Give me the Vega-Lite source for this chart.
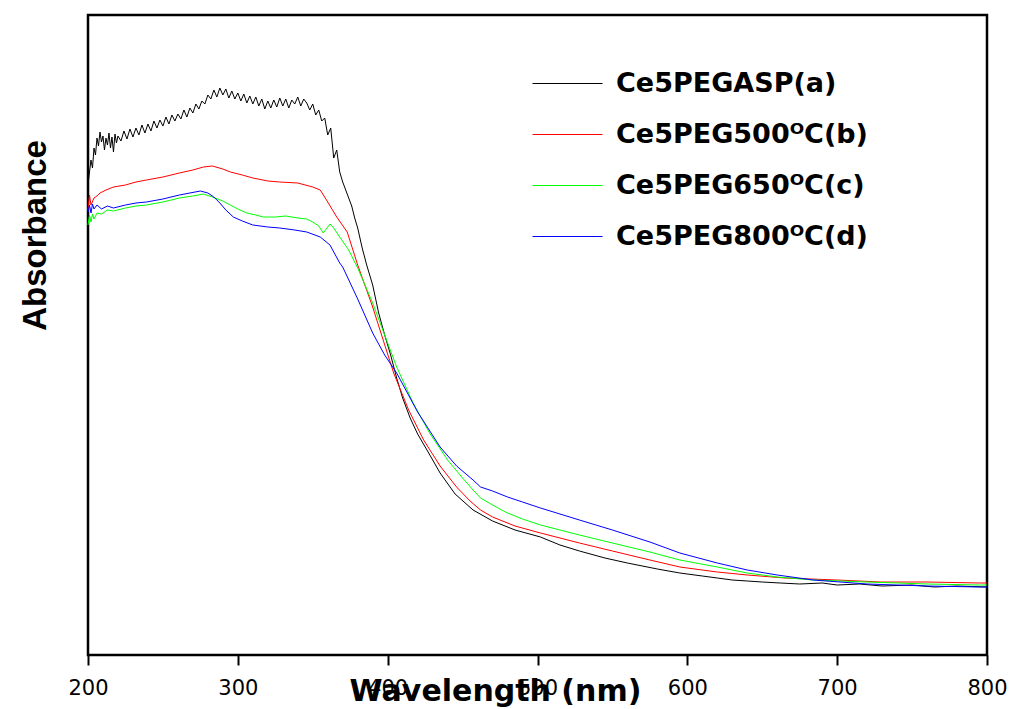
{
"$schema": "https://vega.github.io/schema/vega-lite/v6.json",
"width": 899, "height": 640,
"autosize": {"type": "none"},
"padding": {"left": 88, "top": 15, "right": 24, "bottom": 54},
"background": "white",
"data": {"values": [
{"s":"a","x":200,"y":4.70},{"s":"a","x":201,"y":4.83},{"s":"a","x":202,"y":4.95},{"s":"a","x":203,"y":4.87},{"s":"a","x":204,"y":5.07},{"s":"a","x":205,"y":5.00},{"s":"a","x":206,"y":5.17},{"s":"a","x":207,"y":5.09},{"s":"a","x":208,"y":5.23},{"s":"a","x":209,"y":5.13},{"s":"a","x":210,"y":5.19},{"s":"a","x":211,"y":5.05},{"s":"a","x":212,"y":5.17},{"s":"a","x":213,"y":5.10},{"s":"a","x":214,"y":5.22},{"s":"a","x":215,"y":5.07},{"s":"a","x":216,"y":5.18},{"s":"a","x":217,"y":5.03},{"s":"a","x":218,"y":5.21},{"s":"a","x":219,"y":5.12},{"s":"a","x":220,"y":5.19},{"s":"a","x":222,"y":5.14},{"s":"a","x":224,"y":5.24},{"s":"a","x":226,"y":5.16},{"s":"a","x":228,"y":5.26},{"s":"a","x":230,"y":5.18},{"s":"a","x":232,"y":5.27},{"s":"a","x":234,"y":5.20},{"s":"a","x":236,"y":5.30},{"s":"a","x":238,"y":5.22},{"s":"a","x":240,"y":5.31},{"s":"a","x":242,"y":5.24},{"s":"a","x":244,"y":5.34},{"s":"a","x":246,"y":5.27},{"s":"a","x":248,"y":5.35},{"s":"a","x":250,"y":5.29},{"s":"a","x":252,"y":5.38},{"s":"a","x":254,"y":5.31},{"s":"a","x":256,"y":5.40},{"s":"a","x":258,"y":5.34},{"s":"a","x":260,"y":5.41},{"s":"a","x":262,"y":5.36},{"s":"a","x":264,"y":5.45},{"s":"a","x":266,"y":5.38},{"s":"a","x":268,"y":5.47},{"s":"a","x":270,"y":5.42},{"s":"a","x":272,"y":5.51},{"s":"a","x":274,"y":5.46},{"s":"a","x":276,"y":5.54},{"s":"a","x":278,"y":5.51},{"s":"a","x":280,"y":5.60},{"s":"a","x":282,"y":5.56},{"s":"a","x":284,"y":5.65},{"s":"a","x":286,"y":5.58},{"s":"a","x":288,"y":5.67},{"s":"a","x":290,"y":5.60},{"s":"a","x":292,"y":5.66},{"s":"a","x":294,"y":5.57},{"s":"a","x":296,"y":5.64},{"s":"a","x":298,"y":5.56},{"s":"a","x":300,"y":5.62},{"s":"a","x":302,"y":5.54},{"s":"a","x":304,"y":5.61},{"s":"a","x":306,"y":5.52},{"s":"a","x":308,"y":5.59},{"s":"a","x":310,"y":5.51},{"s":"a","x":312,"y":5.58},{"s":"a","x":314,"y":5.49},{"s":"a","x":316,"y":5.56},{"s":"a","x":318,"y":5.46},{"s":"a","x":320,"y":5.54},{"s":"a","x":322,"y":5.47},{"s":"a","x":324,"y":5.55},{"s":"a","x":326,"y":5.48},{"s":"a","x":328,"y":5.57},{"s":"a","x":330,"y":5.49},{"s":"a","x":332,"y":5.56},{"s":"a","x":334,"y":5.47},{"s":"a","x":336,"y":5.55},{"s":"a","x":338,"y":5.51},{"s":"a","x":340,"y":5.58},{"s":"a","x":342,"y":5.49},{"s":"a","x":344,"y":5.56},{"s":"a","x":346,"y":5.52},{"s":"a","x":348,"y":5.45},{"s":"a","x":350,"y":5.51},{"s":"a","x":352,"y":5.40},{"s":"a","x":354,"y":5.45},{"s":"a","x":356,"y":5.34},{"s":"a","x":358,"y":5.37},{"s":"a","x":360,"y":5.20},{"s":"a","x":362,"y":5.27},{"s":"a","x":364,"y":4.97},{"s":"a","x":366,"y":5.05},{"s":"a","x":368,"y":4.83},{"s":"a","x":370,"y":4.73},{"s":"a","x":372,"y":4.65},{"s":"a","x":374,"y":4.57},{"s":"a","x":376,"y":4.49},{"s":"a","x":378,"y":4.37},{"s":"a","x":380,"y":4.27},{"s":"a","x":383,"y":4.07},{"s":"a","x":386,"y":3.90},{"s":"a","x":390,"y":3.70},{"s":"a","x":394,"y":3.42},{"s":"a","x":398,"y":3.20},{"s":"a","x":402,"y":3.00},{"s":"a","x":406,"y":2.77},{"s":"a","x":410,"y":2.57},{"s":"a","x":415,"y":2.37},{"s":"a","x":420,"y":2.21},{"s":"a","x":427,"y":2.03},{"s":"a","x":435,"y":1.82},{"s":"a","x":445,"y":1.61},{"s":"a","x":457,"y":1.45},{"s":"a","x":470,"y":1.34},{"s":"a","x":485,"y":1.25},{"s":"a","x":502,"y":1.18},{"s":"a","x":515,"y":1.10},{"s":"a","x":528,"y":1.04},{"s":"a","x":545,"y":0.97},{"s":"a","x":560,"y":0.92},{"s":"a","x":580,"y":0.86},{"s":"a","x":595,"y":0.82},{"s":"a","x":610,"y":0.79},{"s":"a","x":620,"y":0.77},{"s":"a","x":630,"y":0.75},{"s":"a","x":640,"y":0.74},{"s":"a","x":650,"y":0.73},{"s":"a","x":662,"y":0.72},{"s":"a","x":675,"y":0.71},{"s":"a","x":690,"y":0.72},{"s":"a","x":700,"y":0.70},{"s":"a","x":715,"y":0.71},{"s":"a","x":730,"y":0.69},{"s":"a","x":750,"y":0.70},{"s":"a","x":765,"y":0.68},{"s":"a","x":780,"y":0.69},{"s":"a","x":800,"y":0.68},
{"s":"b","x":200,"y":4.45},{"s":"b","x":201,"y":4.60},{"s":"b","x":202,"y":4.50},{"s":"b","x":204,"y":4.57},{"s":"b","x":206,"y":4.59},{"s":"b","x":208,"y":4.62},{"s":"b","x":212,"y":4.65},{"s":"b","x":217,"y":4.68},{"s":"b","x":225,"y":4.70},{"s":"b","x":232,"y":4.73},{"s":"b","x":239,"y":4.75},{"s":"b","x":250,"y":4.78},{"s":"b","x":261,"y":4.82},{"s":"b","x":270,"y":4.85},{"s":"b","x":277,"y":4.88},{"s":"b","x":283,"y":4.89},{"s":"b","x":290,"y":4.86},{"s":"b","x":295,"y":4.83},{"s":"b","x":303,"y":4.80},{"s":"b","x":310,"y":4.77},{"s":"b","x":320,"y":4.74},{"s":"b","x":328,"y":4.73},{"s":"b","x":340,"y":4.72},{"s":"b","x":350,"y":4.68},{"s":"b","x":355,"y":4.65},{"s":"b","x":360,"y":4.53},{"s":"b","x":366,"y":4.38},{"s":"b","x":373,"y":4.23},{"s":"b","x":380,"y":3.90},{"s":"b","x":390,"y":3.48},{"s":"b","x":397,"y":3.15},{"s":"b","x":404,"y":2.82},{"s":"b","x":414,"y":2.45},{"s":"b","x":424,"y":2.15},{"s":"b","x":435,"y":1.89},{"s":"b","x":446,"y":1.68},{"s":"b","x":455,"y":1.54},{"s":"b","x":462,"y":1.45},{"s":"b","x":470,"y":1.38},{"s":"b","x":485,"y":1.29},{"s":"b","x":502,"y":1.22},{"s":"b","x":515,"y":1.17},{"s":"b","x":528,"y":1.12},{"s":"b","x":550,"y":1.04},{"s":"b","x":575,"y":0.95},{"s":"b","x":595,"y":0.88},{"s":"b","x":620,"y":0.83},{"s":"b","x":640,"y":0.80},{"s":"b","x":665,"y":0.77},{"s":"b","x":700,"y":0.75},{"s":"b","x":729,"y":0.73},{"s":"b","x":760,"y":0.73},{"s":"b","x":795,"y":0.72},{"s":"b","x":800,"y":0.72},
{"s":"c","x":200,"y":4.30},{"s":"c","x":201,"y":4.40},{"s":"c","x":202,"y":4.33},{"s":"c","x":203,"y":4.41},{"s":"c","x":204,"y":4.36},{"s":"c","x":206,"y":4.42},{"s":"c","x":209,"y":4.41},{"s":"c","x":213,"y":4.45},{"s":"c","x":217,"y":4.44},{"s":"c","x":225,"y":4.47},{"s":"c","x":232,"y":4.49},{"s":"c","x":239,"y":4.50},{"s":"c","x":250,"y":4.53},{"s":"c","x":261,"y":4.57},{"s":"c","x":270,"y":4.59},{"s":"c","x":277,"y":4.61},{"s":"c","x":283,"y":4.58},{"s":"c","x":290,"y":4.54},{"s":"c","x":295,"y":4.50},{"s":"c","x":300,"y":4.46},{"s":"c","x":306,"y":4.42},{"s":"c","x":312,"y":4.40},{"s":"c","x":317,"y":4.38},{"s":"c","x":325,"y":4.38},{"s":"c","x":332,"y":4.39},{"s":"c","x":340,"y":4.37},{"s":"c","x":346,"y":4.36},{"s":"c","x":350,"y":4.33},{"s":"c","x":354,"y":4.29},{"s":"c","x":357,"y":4.22},{"s":"c","x":359,"y":4.26},{"s":"c","x":361.5,"y":4.31},{"s":"c","x":364,"y":4.27},{"s":"c","x":368,"y":4.18},{"s":"c","x":374,"y":4.05},{"s":"c","x":380,"y":3.87},{"s":"c","x":390,"y":3.52},{"s":"c","x":398,"y":3.20},{"s":"c","x":406,"y":2.88},{"s":"c","x":417,"y":2.52},{"s":"c","x":428,"y":2.22},{"s":"c","x":440,"y":1.95},{"s":"c","x":450,"y":1.77},{"s":"c","x":457,"y":1.65},{"s":"c","x":462,"y":1.57},{"s":"c","x":470,"y":1.50},{"s":"c","x":480,"y":1.42},{"s":"c","x":490,"y":1.36},{"s":"c","x":502,"y":1.30},{"s":"c","x":515,"y":1.25},{"s":"c","x":528,"y":1.20},{"s":"c","x":550,"y":1.12},{"s":"c","x":575,"y":1.03},{"s":"c","x":595,"y":0.95},{"s":"c","x":620,"y":0.88},{"s":"c","x":640,"y":0.82},{"s":"c","x":660,"y":0.78},{"s":"c","x":684,"y":0.75},{"s":"c","x":720,"y":0.73},{"s":"c","x":760,"y":0.71},{"s":"c","x":795,"y":0.70},{"s":"c","x":800,"y":0.70},
{"s":"d","x":200,"y":4.43},{"s":"d","x":201,"y":4.50},{"s":"d","x":202,"y":4.42},{"s":"d","x":203,"y":4.51},{"s":"d","x":204,"y":4.46},{"s":"d","x":206,"y":4.50},{"s":"d","x":209,"y":4.46},{"s":"d","x":213,"y":4.49},{"s":"d","x":217,"y":4.47},{"s":"d","x":225,"y":4.50},{"s":"d","x":232,"y":4.52},{"s":"d","x":239,"y":4.53},{"s":"d","x":250,"y":4.56},{"s":"d","x":261,"y":4.60},{"s":"d","x":268,"y":4.62},{"s":"d","x":275,"y":4.64},{"s":"d","x":280,"y":4.62},{"s":"d","x":284,"y":4.58},{"s":"d","x":288,"y":4.52},{"s":"d","x":292,"y":4.45},{"s":"d","x":297,"y":4.38},{"s":"d","x":303,"y":4.34},{"s":"d","x":310,"y":4.30},{"s":"d","x":320,"y":4.28},{"s":"d","x":328,"y":4.27},{"s":"d","x":338,"y":4.25},{"s":"d","x":346,"y":4.23},{"s":"d","x":355,"y":4.18},{"s":"d","x":361.5,"y":4.10},{"s":"d","x":368,"y":3.92},{"s":"d","x":370,"y":3.88},{"s":"d","x":380,"y":3.56},{"s":"d","x":390,"y":3.22},{"s":"d","x":398,"y":3.00},{"s":"d","x":406,"y":2.82},{"s":"d","x":420,"y":2.43},{"s":"d","x":435,"y":2.08},{"s":"d","x":446,"y":1.89},{"s":"d","x":457,"y":1.75},{"s":"d","x":462,"y":1.68},{"s":"d","x":470,"y":1.64},{"s":"d","x":480,"y":1.58},{"s":"d","x":490,"y":1.53},{"s":"d","x":502,"y":1.47},{"s":"d","x":515,"y":1.41},{"s":"d","x":528,"y":1.35},{"s":"d","x":550,"y":1.25},{"s":"d","x":575,"y":1.13},{"s":"d","x":595,"y":1.02},{"s":"d","x":620,"y":0.92},{"s":"d","x":640,"y":0.85},{"s":"d","x":660,"y":0.80},{"s":"d","x":684,"y":0.75},{"s":"d","x":720,"y":0.71},{"s":"d","x":760,"y":0.69},{"s":"d","x":795,"y":0.68},{"s":"d","x":800,"y":0.68}
]},
"mark": {"type": "line", "strokeWidth": 1, "interpolate": "linear"},
"encoding": {
  "x": {"field": "x", "type": "quantitative",
    "scale": {"domain": [200, 800], "nice": false, "zero": false},
    "axis": {"values": [200, 300, 400, 500, 600, 700, 800], "domain": false, "grid": false,
      "ticks": true, "tickSize": 10, "tickWidth": 2, "tickColor": "#000",
      "labelFont": "DejaVu Sans", "labelFontSize": 21, "labelColor": "#000", "labelPadding": 12,
      "labelFlush": false, "labelOverlap": false,
      "title": "Wavelength (nm)", "titleFont": "DejaVu Sans", "titleFontWeight": "bold", "titleFontSize": 30,
      "titleColor": "#000", "titleX": 407, "titleY": 45, "titleBaseline": "alphabetic", "titleAlign": "center"}},
  "y": {"field": "y", "type": "quantitative",
    "scale": {"domain": [0, 6.4], "nice": false},
    "axis": {"domain": false, "ticks": false, "labels": false, "grid": false,
      "title": "Absorbance", "titleFont": "Liberation Sans", "titleFontWeight": "bold", "titleFontSize": 33,
      "titleColor": "#000", "titleAngle": 270, "titleX": -43, "titleY": 220, "titleBaseline": "alphabetic", "titleAlign": "center"}},
  "color": {"field": "s", "type": "nominal",
    "scale": {"domain": ["a", "b", "c", "d"], "range": ["#000000", "#ff0000", "#00ff00", "#0000ff"]},
    "legend": {"title": null, "orient": "none", "legendX": 444, "legendY": 33, "symbolType": "stroke",
      "symbolSize": 4900, "symbolStrokeWidth": 1, "labelFont": "DejaVu Sans", "labelFontWeight": "bold",
      "labelFontSize": 27, "labelColor": "#000", "labelOffset": 13, "rowPadding": 2, "padding": 0, "labelLimit": 400,
      "labelExpr": "datum.value == 'a' ? 'Ce5PEGASP(a)' : datum.value == 'b' ? 'Ce5PEG500ᴼC(b)' : datum.value == 'c' ? 'Ce5PEG650ᴼC(c)' : 'Ce5PEG800ᴼC(d)'"}}
},
"config": {"view": {"stroke": "#000", "strokeWidth": 2.5}}
}
